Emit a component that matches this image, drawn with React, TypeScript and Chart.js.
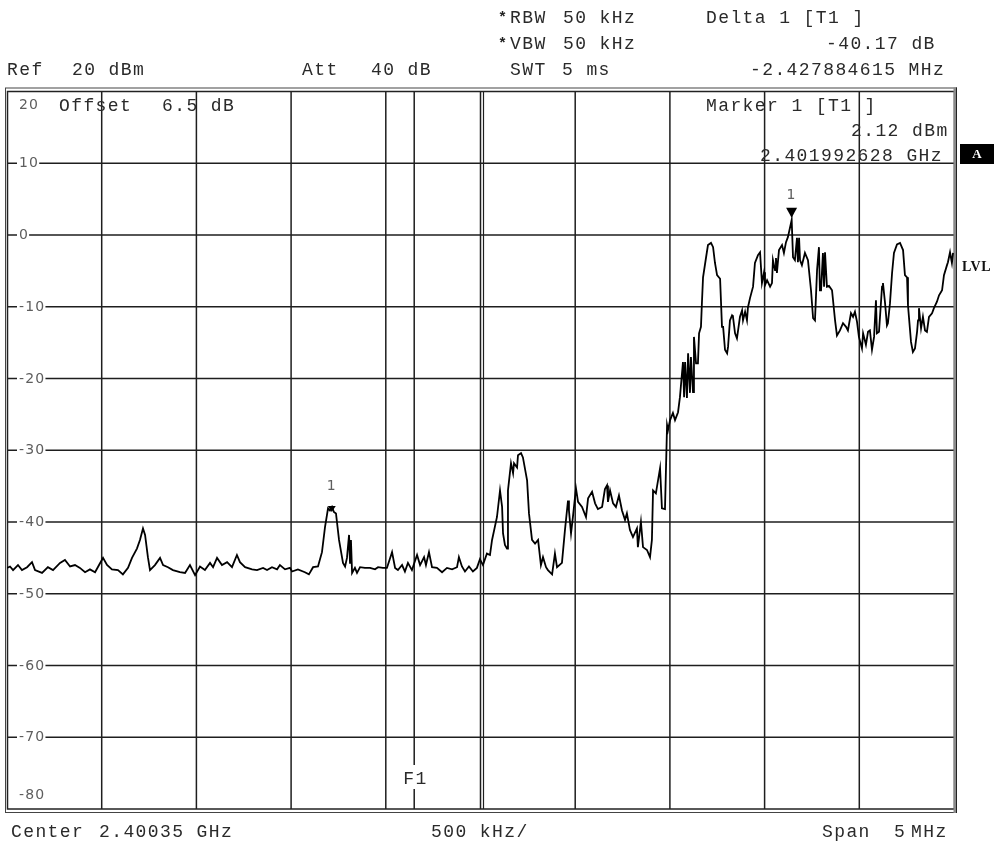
import { useEffect, useRef } from "react";
import { Chart, registerables } from "chart.js";

Chart.register(...registerables);

// Sweep: Center 2.40035 GHz, Span 5 MHz -> x values are MHz offset from sweep start (2397.85 MHz)
const SPAN_MHZ = 5;
const REF_LEVEL = 20;
const BOTTOM_LEVEL = -80;

const xGridMHz = [0.5, 1.0, 1.5, 2.0, 2.5, 3.0, 3.5, 4.0, 4.5];
const yGridDbm = [10, 0, -10, -20, -30, -40, -50, -60, -70];
const yEdgeLabels = ["20", "-80"];

const f1MHz = 2.15; // 2.4000 GHz display line F1
const marker1 = { f: 4.1426, level: 2.12 };
const deltaMarker = { f: 1.7147, level: -38.05 };

const headerTexts = {
  rbw: "RBW", rbwVal: "50 kHz",
  vbw: "VBW", vbwVal: "50 kHz",
  swt: "SWT", swtVal: "5 ms",
  ref: "Ref", refVal: "20 dBm",
  att: "Att", attVal: "40 dB",
  delta: "Delta 1 [T1 ]", deltaLevel: "-40.17 dB", deltaFreq: "-2.427884615 MHz",
  offset: "Offset", offsetVal: "6.5 dB",
  marker: "Marker 1 [T1 ]", markerLevel: "2.12 dBm", markerFreq: "2.401992628 GHz",
  center: "Center", centerVal: "2.40035 GHz",
  perDiv: "500 kHz/",
  span: "Span", spanNum: "5", spanUnit: "MHz",
};

// [MHz offset, dBm]
const trace: [number, number][] = [
  [0.000,-46.4],[0.016,-46.2],[0.032,-46.7],[0.058,-46.0],[0.079,-46.7],[0.106,-46.3],[0.132,-45.6],[0.148,-46.7],[0.185,-47.1],[0.216,-46.3],[0.243,-46.7],[0.280,-45.7],[0.306,-45.3],[0.333,-46.2],[0.359,-46.0],[0.385,-46.4],[0.412,-47.0],[0.438,-46.6],[0.465,-47.0],[0.486,-46.0],[0.507,-45.0],[0.528,-46.0],[0.554,-46.6],[0.586,-46.7],[0.612,-47.3],[0.639,-46.4],[0.660,-45.0],[0.686,-43.7],[0.702,-42.5],[0.718,-40.9],[0.729,-41.8],[0.744,-44.9],[0.755,-46.7],[0.781,-46.0],[0.808,-45.0],[0.824,-46.0],[0.850,-46.3],[0.876,-46.7],[0.913,-47.0],[0.940,-47.1],[0.966,-46.0],[0.993,-47.4],[1.019,-46.2],[1.045,-46.7],[1.072,-45.7],[1.088,-46.3],[1.109,-45.0],[1.135,-46.0],[1.162,-45.6],[1.188,-46.3],[1.214,-44.6],[1.230,-45.6],[1.257,-46.3],[1.294,-46.6],[1.320,-46.7],[1.352,-46.4],[1.373,-46.7],[1.399,-46.3],[1.426,-46.6],[1.441,-46.0],[1.468,-46.6],[1.494,-46.4],
  [1.505,-46.9],[1.536,-46.6],[1.573,-47.0],[1.594,-47.3],[1.616,-46.3],[1.642,-46.2],[1.663,-44.2],[1.679,-40.7],[1.695,-38.1],[1.705,-38.4],[1.716,-37.9],[1.726,-38.6],[1.737,-38.8],[1.753,-42.5],[1.774,-45.7],[1.785,-46.2],[1.795,-45.0],[1.806,-41.8],[1.811,-45.7],[1.816,-42.5],[1.822,-47.1],[1.837,-46.4],[1.848,-47.1],[1.864,-46.3],[1.890,-46.4],[1.917,-46.4],[1.943,-46.6],[1.959,-46.3],[1.985,-46.4],[2.006,-46.4],[2.033,-44.2],[2.049,-46.4],[2.064,-46.7],[2.086,-46.0],[2.101,-46.9],[2.117,-45.7],[2.138,-46.7],[2.165,-44.6],[2.181,-46.0],[2.202,-44.9],[2.212,-46.0],[2.228,-44.2],[2.244,-46.3],[2.270,-46.4],[2.297,-47.0],[2.323,-46.4],[2.350,-46.6],[2.376,-46.3],[2.386,-44.9],[2.402,-46.2],[2.418,-46.9],[2.439,-46.2],[2.460,-46.9],[2.481,-46.4],[2.497,-45.2],[2.513,-46.0],[2.534,-44.4],[2.550,-44.6],
  [2.561,-42.5],[2.587,-39.3],[2.603,-35.6],[2.614,-37.9],[2.619,-41.6],[2.629,-43.2],[2.640,-43.7],[2.645,-35.6],[2.661,-31.8],[2.672,-33.2],[2.677,-31.8],[2.693,-32.4],[2.698,-30.7],[2.714,-30.4],[2.724,-31.0],[2.746,-34.2],[2.756,-38.8],[2.772,-42.5],[2.788,-43.0],[2.804,-42.5],[2.819,-46.0],[2.830,-44.9],[2.846,-46.3],[2.856,-46.7],[2.878,-47.3],[2.893,-44.4],[2.904,-46.3],[2.930,-45.7],[2.946,-41.1],[2.962,-37.0],[2.967,-38.4],[2.978,-41.6],[2.988,-39.3],[3.004,-35.3],[3.015,-37.2],[3.036,-37.9],[3.057,-39.3],[3.068,-36.7],[3.089,-35.8],[3.105,-37.4],[3.120,-38.2],[3.142,-37.9],[3.157,-35.4],[3.168,-34.9],[3.173,-37.2],[3.184,-35.6],[3.200,-37.4],[3.215,-37.9],[3.231,-36.3],[3.247,-38.4],[3.263,-39.7],[3.273,-38.8],[3.289,-41.1],[3.305,-42.1],[3.326,-40.9],[3.331,-43.5],[3.347,-40.0],[3.358,-43.5],[3.379,-43.9],[3.395,-44.9],[3.405,-42.5],[3.411,-35.6],[3.426,-36.0],[3.448,-32.5],[3.458,-38.1],[3.474,-38.2],[3.485,-26.5],[3.490,-27.2],[3.501,-25.8],[3.516,-24.8],[3.527,-25.8],[3.543,-24.7],[3.553,-22.6],[3.569,-17.7],[3.575,-22.6],[3.580,-17.7],[3.590,-22.7],[3.596,-16.5],[3.606,-22.0],[3.611,-17.0],[3.622,-21.9],[3.627,-14.2],[3.638,-17.9],[3.648,-17.9],[3.654,-13.7],[3.664,-12.8],[3.669,-9.5],[3.675,-5.9],[3.691,-3.1],[3.701,-1.4],[3.717,-1.1],[3.728,-1.7],[3.738,-3.9],[3.749,-5.6],[3.765,-6.1],[3.775,-12.8],[3.781,-12.8],[3.791,-16.0],[3.802,-16.5],[3.807,-15.6],[3.817,-11.9],[3.828,-11.2],[3.833,-11.4],[3.844,-13.7],[3.854,-14.4],[3.860,-13.3],[3.870,-11.4],[3.881,-10.5],[3.886,-11.9],[3.897,-10.7],[3.907,-11.9],[3.912,-10.1],[3.923,-8.8],[3.939,-7.2],[3.949,-3.9],[3.965,-2.8],[3.976,-2.4],[3.986,-6.7],[3.997,-5.2],[4.002,-7.0],[4.013,-6.3],[4.029,-7.2],[4.039,-6.7],[4.044,-3.5],[4.055,-4.9],[4.060,-3.2],[4.065,-5.3],[4.076,-2.1],[4.092,-1.4],[4.102,-2.5],[4.113,-1.0],[4.123,-0.3],[4.143,2.1],[4.150,-3.1],[4.160,-3.5],[4.171,-0.4],[4.176,-3.8],[4.182,-0.4],[4.187,-3.5],[4.197,-4.2],[4.213,-2.5],[4.229,-3.5],[4.245,-7.7],[4.256,-11.6],[4.266,-11.9],[4.277,-4.9],[4.287,-1.7],[4.292,-7.7],[4.298,-7.7],[4.308,-2.5],[4.314,-7.2],[4.319,-2.4],[4.329,-7.2],[4.340,-7.1],[4.356,-7.7],[4.372,-11.9],[4.382,-14.0],[4.398,-13.3],[4.414,-12.3],[4.430,-12.8],[4.440,-13.3],[4.456,-10.9],[4.467,-11.4],[4.477,-10.7],[4.488,-12.1],[4.498,-14.2],[4.514,-15.8],[4.520,-13.7],[4.535,-15.3],[4.546,-13.5],[4.556,-13.3],[4.567,-16.0],[4.578,-14.2],[4.588,-9.1],[4.593,-13.7],[4.604,-13.5],[4.620,-7.2],[4.625,-6.7],[4.636,-9.5],[4.646,-12.6],[4.651,-12.3],[4.662,-9.5],[4.673,-5.3],[4.683,-2.5],[4.699,-1.3],[4.715,-1.1],[4.731,-2.1],[4.741,-5.6],[4.752,-5.9],[4.757,-9.8],[4.773,-14.9],[4.783,-16.3],[4.794,-15.8],[4.805,-13.5],[4.810,-11.9],[4.815,-10.2],[4.826,-13.0],[4.836,-11.4],[4.847,-13.3],[4.857,-13.5],[4.868,-11.4],[4.884,-10.9],[4.894,-10.2],[4.910,-9.3],[4.921,-8.4],[4.937,-7.7],[4.947,-5.6],[4.963,-4.2],[4.968,-3.8],[4.979,-2.4],[4.989,-3.9],[4.995,-2.5],
];

const MONO = '"Liberation Mono", "DejaVu Sans Mono", monospace';
const SANS = '"DejaVu Sans", sans-serif';
const TEXT_COLOR = "#2a2a2a";
const GRID_COLOR = "#1e1e1e";
const LABEL_COLOR = "#5e5e5e";

function monoText(ctx: CanvasRenderingContext2D, s: string, x: number, y: number) {
  ctx.save();
  ctx.font = `18px ${MONO}`;
  (ctx as any).letterSpacing = "1.4px";
  ctx.fillStyle = TEXT_COLOR;
  ctx.textAlign = "left";
  ctx.textBaseline = "alphabetic";
  ctx.fillText(s, x, y);
  ctx.restore();
}

function labelWidth(ctx: CanvasRenderingContext2D, s: string) {
  ctx.save();
  ctx.font = `14px ${SANS}`;
  (ctx as any).letterSpacing = "1.2px";
  const w = ctx.measureText(s).width;
  ctx.restore();
  return w;
}

function sansLabel(ctx: CanvasRenderingContext2D, s: string, x: number, yMid: number) {
  ctx.save();
  ctx.font = `14px ${SANS}`;
  (ctx as any).letterSpacing = "1.2px";
  ctx.fillStyle = LABEL_COLOR;
  ctx.textAlign = "left";
  ctx.textBaseline = "middle";
  ctx.fillText(s, x, yMid);
  ctx.restore();
}

const analyzerPlugin = {
  id: "analyzerScreen",
  beforeDatasetsDraw(chart: any) {
    const { ctx, chartArea: a, scales } = chart;
    const xs = scales.x;
    const ys = scales.y;
    ctx.save();
    ctx.fillStyle = "#fff";
    ctx.fillRect(0, 0, chart.width, chart.height);

    // vertical grid
    ctx.strokeStyle = GRID_COLOR;
    ctx.lineWidth = 1.5;
    for (const f of xGridMHz) {
      const px = xs.getPixelForValue(f);
      ctx.beginPath();
      ctx.moveTo(px, a.top);
      ctx.lineTo(px, a.bottom);
      ctx.stroke();
    }
    // centre double line
    {
      const px = xs.getPixelForValue(SPAN_MHZ / 2) + 3;
      ctx.lineWidth = 1.2;
      ctx.beginPath();
      ctx.moveTo(px, a.top);
      ctx.lineTo(px, a.bottom);
      ctx.stroke();
    }
    // horizontal grid with labels
    ctx.lineWidth = 1.5;
    for (const v of yGridDbm) {
      const py = ys.getPixelForValue(v);
      ctx.strokeStyle = GRID_COLOR;
      ctx.beginPath();
      ctx.moveTo(a.left, py);
      ctx.lineTo(a.right, py);
      ctx.stroke();
      const w = labelWidth(ctx, String(v));
      ctx.fillStyle = "#fff";
      ctx.fillRect(a.left + 10, py - 3, w + 2, 6);
      sansLabel(ctx, String(v), a.left + 12, py + 0.5);
    }
    sansLabel(ctx, yEdgeLabels[0], a.left + 12, ys.getPixelForValue(REF_LEVEL) + 14);
    sansLabel(ctx, yEdgeLabels[1], a.left + 12, ys.getPixelForValue(BOTTOM_LEVEL) - 14);

    // F1 display line
    {
      const px = xs.getPixelForValue(f1MHz);
      ctx.strokeStyle = GRID_COLOR;
      ctx.lineWidth = 1.5;
      ctx.beginPath();
      ctx.moveTo(px, a.top);
      ctx.lineTo(px, a.bottom - 44);
      ctx.moveTo(px, a.bottom - 20);
      ctx.lineTo(px, a.bottom);
      ctx.stroke();
      monoText(ctx, "F1", px - 11, a.bottom - 25);
    }

    // frame
    ctx.strokeStyle = "#222";
    ctx.lineWidth = 1.5;
    ctx.strokeRect(a.left + 0.5, a.top, a.right - a.left, a.bottom - a.top);
    ctx.lineWidth = 1;
    ctx.strokeStyle = "#444";
    ctx.strokeRect(a.left - 1.5, a.top - 3.5, a.right - a.left + 4, a.bottom - a.top + 7);
    ctx.fillStyle = "#8a8a8a";
    ctx.fillRect(a.right - 0.5, a.top - 4, 3.5, a.bottom - a.top + 8);
    ctx.fillStyle = "#222";
    ctx.fillRect(a.right + 2, a.top - 4, 1, a.bottom - a.top + 8);
    ctx.restore();
  },
  afterDatasetsDraw(chart: any) {
    const { ctx, scales } = chart;
    const xs = scales.x;
    const ys = scales.y;
    ctx.save();
    // main marker
    {
      const px = xs.getPixelForValue(marker1.f);
      const py = ys.getPixelForValue(marker1.level);
      ctx.fillStyle = "#000";
      ctx.beginPath();
      ctx.moveTo(px - 5.5, py - 12);
      ctx.lineTo(px + 5.5, py - 12);
      ctx.lineTo(px, py - 2);
      ctx.closePath();
      ctx.fill();
      sansLabel(ctx, "1", px - 5, py - 24);
    }
    // delta marker
    {
      const px = xs.getPixelForValue(deltaMarker.f);
      const py = ys.getPixelForValue(deltaMarker.level);
      ctx.fillStyle = "#000";
      ctx.beginPath();
      ctx.moveTo(px - 4, py - 2);
      ctx.lineTo(px + 4, py - 2);
      ctx.lineTo(px, py + 4);
      ctx.closePath();
      ctx.fill();
      sansLabel(ctx, "1", px - 5, py - 22);
    }
    // texts inside the grid
    const t = headerTexts;
    monoText(ctx, t.offset, 59, 111);
    monoText(ctx, t.offsetVal, 162, 111);
    monoText(ctx, t.marker, 706, 111);
    monoText(ctx, t.markerLevel, 851, 136);
    monoText(ctx, t.markerFreq, 760, 161);
    ctx.restore();
  },
  afterDraw(chart: any) {
    const { ctx } = chart;
    const t = headerTexts;
    ctx.save();
    // asterisks
    ctx.font = `bold 15px ${MONO}`;
    ctx.fillStyle = "#222";
    ctx.fillText("*", 498, 22);
    ctx.fillText("*", 498, 48);
    ctx.restore();
    monoText(ctx, t.rbw, 510, 23);
    monoText(ctx, t.rbwVal, 563, 23);
    monoText(ctx, t.vbw, 510, 49);
    monoText(ctx, t.vbwVal, 563, 49);
    monoText(ctx, t.swt, 510, 75);
    monoText(ctx, t.swtVal, 562, 75);
    monoText(ctx, t.ref, 7, 75);
    monoText(ctx, t.refVal, 72, 75);
    monoText(ctx, t.att, 302, 75);
    monoText(ctx, t.attVal, 371, 75);
    monoText(ctx, t.delta, 706, 23);
    monoText(ctx, t.deltaLevel, 826, 49);
    monoText(ctx, t.deltaFreq, 750, 75);
    monoText(ctx, t.center, 11, 837);
    monoText(ctx, t.centerVal, 99, 837);
    monoText(ctx, t.perDiv, 431, 837);
    monoText(ctx, t.span, 822, 837);
    monoText(ctx, t.spanNum, 894, 837);
    monoText(ctx, t.spanUnit, 911, 837);

    // side labels
    ctx.save();
    ctx.fillStyle = "#000";
    ctx.fillRect(960, 144, 34, 20);
    ctx.fillStyle = "#fff";
    ctx.font = `bold 13px "Liberation Serif", serif`;
    ctx.textAlign = "center";
    ctx.textBaseline = "middle";
    ctx.fillText("A", 977, 155);
    ctx.fillStyle = "#111";
    ctx.textAlign = "left";
    ctx.font = `bold 14px "Liberation Serif", serif`;
    (ctx as any).letterSpacing = "0.5px";
    ctx.fillText("LVL", 962, 267);
    ctx.restore();
  },
};

export default function App() {
  const ref = useRef<HTMLCanvasElement | null>(null);
  useEffect(() => {
    document.body.style.margin = "0";
    const canvas = ref.current;
    if (!canvas) return;
    const chart = new Chart(canvas, {
      type: "line",
      data: {
        datasets: [
          {
            data: trace.map(([f, l]) => ({ x: f, y: l })),
            borderColor: "#000",
            borderWidth: 1.8,
            pointRadius: 0,
            tension: 0,
            fill: false,
          },
        ],
      },
      options: {
        responsive: false,
        maintainAspectRatio: false,
        animation: false,
        events: [],
        layout: { padding: { left: 7, right: 40, top: 91.5, bottom: 34 } },
        plugins: { legend: { display: false }, tooltip: { enabled: false } },
        scales: {
          x: { type: "linear", min: 0, max: SPAN_MHZ, display: false },
          y: { type: "linear", min: BOTTOM_LEVEL, max: REF_LEVEL, display: false },
        },
      },
      plugins: [analyzerPlugin],
    });
    return () => chart.destroy();
  }, []);
  return (
    <div style={{ width: 994, height: 843, position: "relative", background: "#fff" }}>
      <canvas ref={ref} width={994} height={843} style={{ display: "block" }} />
    </div>
  );
}
